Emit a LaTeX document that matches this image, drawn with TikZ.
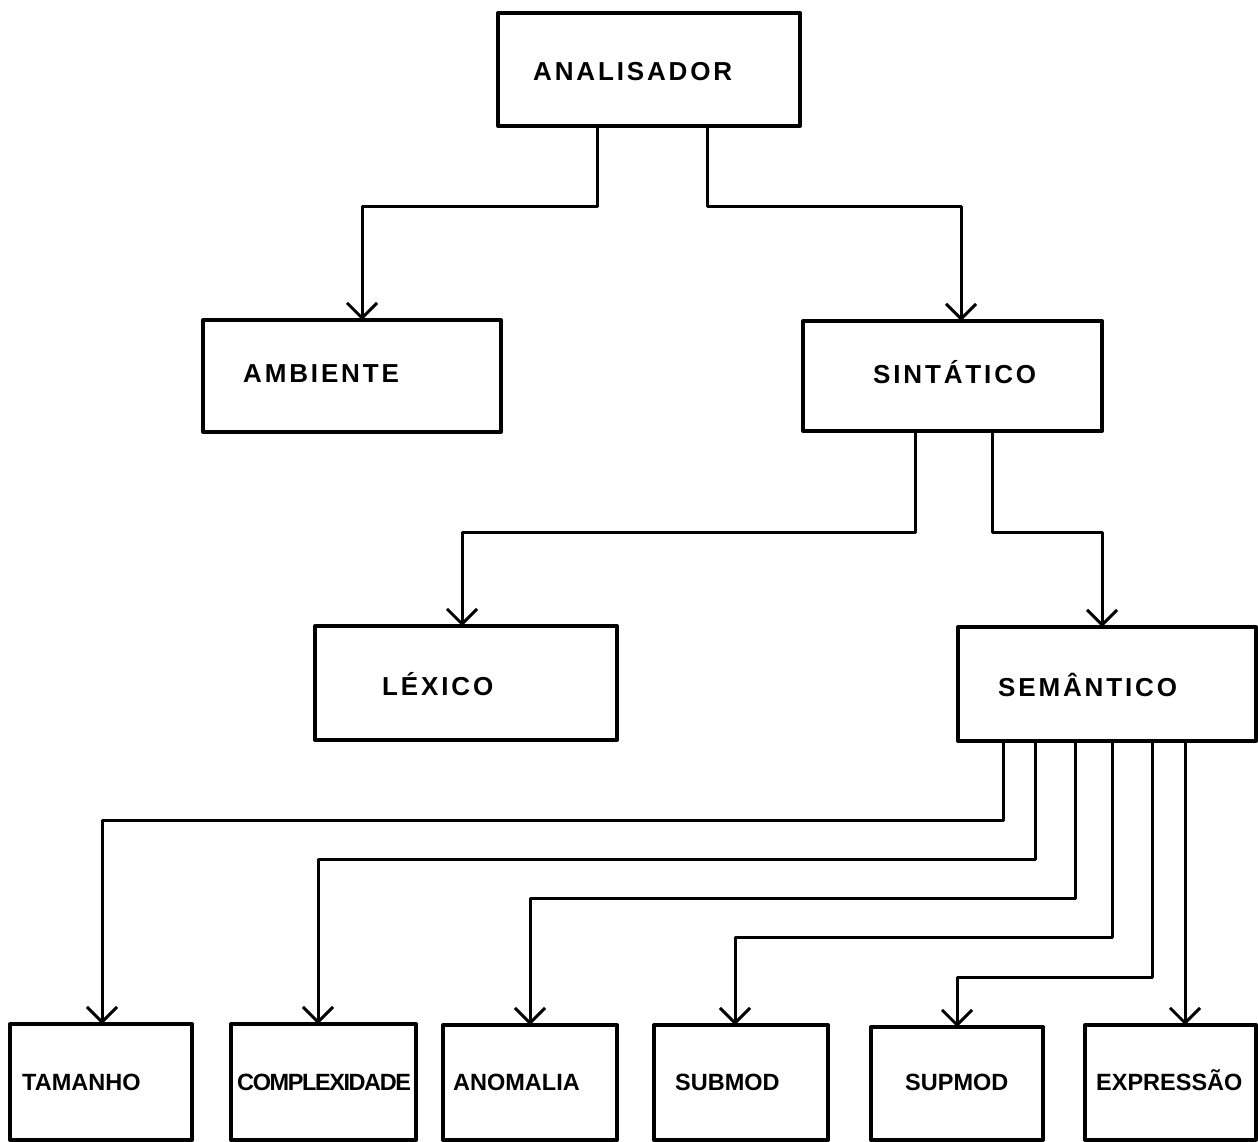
\documentclass[tikz,border=0pt]{standalone}
\usepackage{fontspec}
\setmainfont{Liberation Sans}
\usetikzlibrary{arrows.meta}
\begin{document}
\begin{tikzpicture}[x=1pt,y=-1pt,
  box/.style={draw, line width=4pt, line join=round, inner sep=0pt, outer sep=0pt, anchor=north west},
  toplab/.style={anchor=base west, inner sep=0pt, font=\fontsize{26}{26}\selectfont\bfseries\addfontfeature{LetterSpace=11}},
  botlab/.style={anchor=base west, inner sep=0pt, font=\fontsize{23.5}{24}\selectfont\bfseries},
  conn/.style={line width=3pt, line join=round, -{Straight Barb[length=15pt,width=30pt,line width=3pt]}}
]
\fill[white] (0,0) rectangle (1258,1142);
\useasboundingbox (0,0) rectangle (1258,1142);

% modules
\node[box, minimum width=302pt, minimum height=113pt] (an)  at (498,13)   {};
\node[box, minimum width=298pt, minimum height=112pt] (amb) at (203,320)  {};
\node[box, minimum width=299pt, minimum height=110pt] (sin) at (803,321)  {};
\node[box, minimum width=302pt, minimum height=114pt] (lex) at (315,626)  {};
\node[box, minimum width=298pt, minimum height=114pt] (sem) at (958,627)  {};
\node[box, minimum width=182pt, minimum height=116pt] (tam) at (10,1024)  {};
\node[box, minimum width=185pt, minimum height=116pt] (com) at (231,1024) {};
\node[box, minimum width=174pt, minimum height=115pt] (ano) at (443,1025) {};
\node[box, minimum width=174pt, minimum height=115pt] (sub) at (654,1025) {};
\node[box, minimum width=172pt, minimum height=113pt] (sup) at (871,1027) {};
\node[box, minimum width=171pt, minimum height=115pt] (exp) at (1085,1025) {};

% labels
\node[toplab] (anT)  at (533,81)  {ANALISADOR};
\node[toplab] (ambT) at (243,382) {AMBIENTE};
\node[toplab] (sinT) at (873,383) {SINTÁTICO};
\node[toplab] (lexT) at (382,695) {LÉXICO};
\node[toplab] (semT) at (998,696) {SEMÂNTICO};
\node[botlab] (tamT) at (22,1090)  {TAMANHO};
\node[botlab, font=\fontsize{23.5}{24}\selectfont\bfseries\addfontfeature{LetterSpace=-6}] (comT) at (237,1090) {COMPLEXIDADE};
\node[botlab] (anoT) at (453,1090) {ANOMALIA};
\node[botlab] (subT) at (675,1090) {SUBMOD};
\node[botlab] (supT) at (905,1090) {SUPMOD};
\node[botlab] (expT) at (1096,1090) {EXPRESSÃO};

% branch points
\coordinate (a1) at (597,0);  \coordinate (a2) at (707,0);
\coordinate (ha1) at (362,207); \coordinate (ha2) at (961,207);
\coordinate (b1) at (915,0);  \coordinate (b2) at (992,0);
\coordinate (hb1) at (462,532); \coordinate (hb2) at (1102,532);
\coordinate (s1) at (1003,0); \coordinate (s2) at (1035,0);
\coordinate (s3) at (1075,0); \coordinate (s4) at (1112,0);
\coordinate (s5) at (1152,0); \coordinate (s6) at (1185,0);
\coordinate (h1) at (102,820); \coordinate (h2) at (318,859);
\coordinate (h3) at (530,898); \coordinate (h4) at (735,937);
\coordinate (h5) at (957,977);

% connectors
\draw[conn] (an.south -| a1) |- (ha1) -- (amb.north -| ha1);
\draw[conn] (an.south -| a2) |- (ha2) -- (sin.north -| ha2);
\draw[conn] (sin.south -| b1) |- (hb1) -- (lex.north -| hb1);
\draw[conn] (sin.south -| b2) |- (hb2) -- (sem.north -| hb2);
\draw[conn] (sem.south -| s1) |- (h1) -- (tam.north -| h1);
\draw[conn] (sem.south -| s2) |- (h2) -- (com.north -| h2);
\draw[conn] (sem.south -| s3) |- (h3) -- (ano.north -| h3);
\draw[conn] (sem.south -| s4) |- (h4) -- (sub.north -| h4);
\draw[conn] (sem.south -| s5) |- (h5) -- (sup.north -| h5);
\draw[conn] (sem.south -| s6) -- (exp.north -| s6);
\end{tikzpicture}
\end{document}
